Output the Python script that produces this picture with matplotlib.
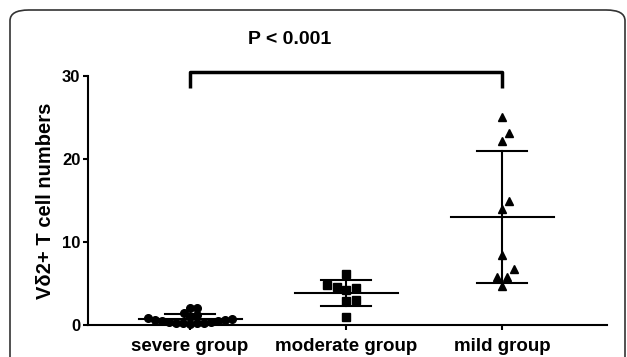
import numpy as np
import matplotlib
matplotlib.use("Agg")
import matplotlib.pyplot as plt
from matplotlib.patches import FancyBboxPatch

plt.rcParams['font.family'] = ['Liberation Sans', 'DejaVu Sans']
plt.rcParams['font.weight'] = 'bold'

groups = ["severe group", "moderate group", "mild group"]
severe = [2.0, 2.1, 1.5, 1.2, 1.0, 0.8, 0.6, 0.5, 0.4, 0.3, 0.3, 0.2,
          0.2, 0.1, 0.4, 0.5, 0.6, 0.7]
moderate = [6.1, 4.8, 4.5, 4.2, 4.6, 3.0, 2.9, 1.0]
mild = [25.0, 23.1, 22.2, 14.9, 14.0, 8.4, 5.8, 5.8, 6.7, 4.7]
yticks = [0, 10, 20, 30]
p_text = "P < 0.001"


def swarm(ax, values, center, diam):
    # simple beeswarm in pixel space, lowest values first
    vals = np.asarray(values, float)
    pts = ax.transData.transform(np.column_stack([np.full(len(vals), center), vals]))
    cx = pts[0, 0]
    placed = []
    xs = np.zeros(len(vals))
    for i in np.argsort(vals, kind="stable"):
        y = pts[i, 1]
        for k in range(0, 200):
            cands = [0] if k == 0 else [k, -k]
            done = False
            for dx in cands:
                if all((dx - px) ** 2 + (y - py) ** 2 >= diam ** 2 for px, py in placed):
                    placed.append((dx, y))
                    xs[i] = dx
                    done = True
                    break
            if done:
                break
    back = ax.transData.inverted().transform(np.column_stack([cx + xs, pts[:, 1]]))
    return back[:, 0]


fig = plt.figure(figsize=(6.27, 3.57), dpi=100)
ax = fig.add_axes([88 / 627, 32 / 357, (607 - 88) / 627, (325 - 76) / 357])
ax.set_xlim(-0.654, 2.67)
ax.set_ylim(0, 30)

styles = [("o", 5.5, 6.8), ("s", 6.3, 9.5), ("^", 6.3, 10.0)]
for i, (vals, (mk, ms, d)) in enumerate(zip([severe, moderate, mild], styles)):
    xs = swarm(ax, vals, i, d)
    ax.plot(xs, vals, linestyle="none", marker=mk, markersize=ms,
            color="black", clip_on=False, zorder=3)
    m = np.mean(vals)
    s = np.std(vals, ddof=1)
    ax.plot([i - 0.33, i + 0.33], [m, m], color="black", lw=1.5, zorder=4)
    ax.plot([i, i], [max(m - s, 0), m + s], color="black", lw=1.5, zorder=4)
    for yv in (m - s, m + s):
        if yv > 0:
            ax.plot([i - 0.16, i + 0.16], [yv, yv], color="black", lw=1.5, zorder=4)

# significance bracket
ax.plot([0, 0, 2, 2], [28.6, 30.5, 30.5, 28.6], color="black", lw=2.5,
        clip_on=False, solid_capstyle="butt")

ax.spines["top"].set_visible(False)
ax.spines["right"].set_visible(False)
ax.spines["left"].set_linewidth(1.5)
ax.spines["bottom"].set_linewidth(1.5)
ax.set_yticks(yticks)
ax.set_xticks(range(len(groups)))
ax.set_xticklabels(groups, fontsize=13.5, fontweight="bold")
ax.tick_params(axis="y", length=3.5, width=1.5, pad=2, labelsize=12)
ax.tick_params(axis="x", length=3.5, width=1.5, pad=6)
for t in ax.get_yticklabels():
    t.set_fontweight("bold")
ax.set_ylabel("Vδ2+ T cell numbers", fontsize=14.5, fontweight="bold", labelpad=5)

fig.text(290 / 627, 1 - 40 / 357, p_text, ha="center", va="center",
         fontsize=14, fontweight="bold")

box = FancyBboxPatch((10 / 627, -0.2), (625 - 10) / 627, (1 - 10 / 357) + 0.2,
                     boxstyle="round,pad=0,rounding_size=0.03",
                     transform=fig.transFigure, fill=False,
                     edgecolor="#333333", lw=1.2, clip_on=False)
fig.patches.append(box)

fig.savefig("out.png", dpi=100)
